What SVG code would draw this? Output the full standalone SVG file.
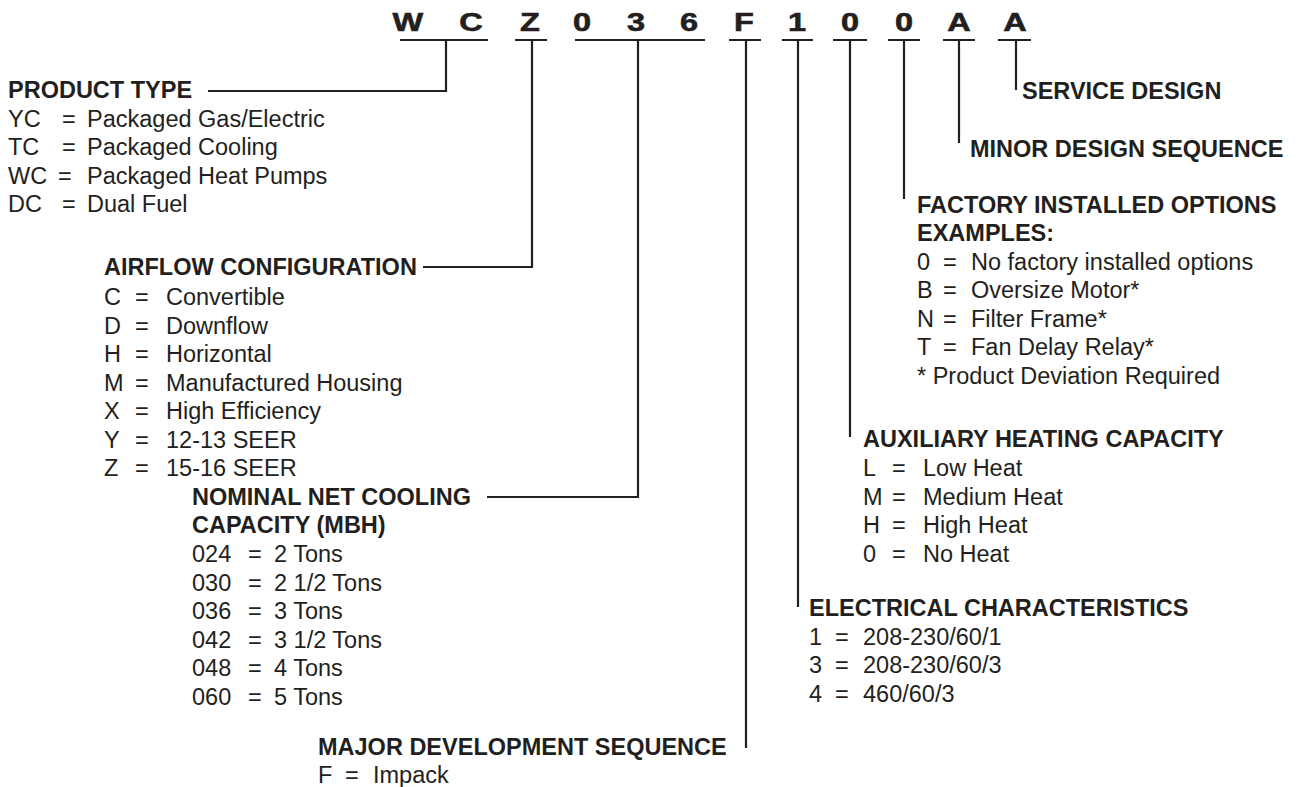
<svg xmlns="http://www.w3.org/2000/svg" width="1300" height="787" viewBox="0 0 1300 787">
<style>
text{font-family:"Liberation Sans",Arial,sans-serif;fill:#231f20}
.h{font-size:23.5px;font-weight:bold}
.t{font-size:23.5px}
.code{font-size:25px;font-weight:bold;stroke:#231f20;stroke-width:0.6px;text-anchor:middle}
.ln{stroke:#231f20;stroke-width:2.2;fill:none}
</style>
<rect width="1300" height="787" fill="#fff"/>
<g id="model-code" transform="scale(1.3 1)">
<text class="code" x="313.8 362.3 407.7 447.7 489.2 530 572.3 613.1 653.8 695.4 737.7 780.8" y="31">WCZ036F100AA</text>
</g>
<g id="connectors">
<path class="ln" d="M400 40H488M515 40H547M575 40H705M729 40H761M782 40H813M833 40H867M888 40H920M943 40H975M998 40H1031"/>
<path class="ln" d="M446 40V91H208"/>
<path class="ln" d="M532 40V267H423"/>
<path class="ln" d="M638 40V497H487"/>
<path class="ln" d="M746 40V748"/>
<path class="ln" d="M798 40V607"/>
<path class="ln" d="M850 40V437"/>
<path class="ln" d="M904 40V199"/>
<path class="ln" d="M959 40V143"/>
<path class="ln" d="M1016 40V90"/>
</g>
<g id="product-type">
<text class="h" x="8" y="98">PRODUCT TYPE</text>
<text class="t" y="127"><tspan x="8">YC</tspan><tspan x="62">=</tspan><tspan x="87">Packaged Gas/Electric</tspan></text>
<text class="t" y="155"><tspan x="8">TC</tspan><tspan x="62">=</tspan><tspan x="87">Packaged Cooling</tspan></text>
<text class="t" y="184"><tspan x="8">WC</tspan><tspan x="58">=</tspan><tspan x="87">Packaged Heat Pumps</tspan></text>
<text class="t" y="212"><tspan x="8">DC</tspan><tspan x="62">=</tspan><tspan x="87">Dual Fuel</tspan></text>
</g>
<g id="airflow-configuration">
<text class="h" x="104" y="275">AIRFLOW CONFIGURATION</text>
<text class="t" y="305"><tspan x="104">C</tspan><tspan x="135">=</tspan><tspan x="166">Convertible</tspan></text>
<text class="t" y="334"><tspan x="104">D</tspan><tspan x="135">=</tspan><tspan x="166">Downflow</tspan></text>
<text class="t" y="362"><tspan x="104">H</tspan><tspan x="135">=</tspan><tspan x="166">Horizontal</tspan></text>
<text class="t" y="391"><tspan x="104">M</tspan><tspan x="135">=</tspan><tspan x="166">Manufactured Housing</tspan></text>
<text class="t" y="419"><tspan x="104">X</tspan><tspan x="135">=</tspan><tspan x="166">High Efficiency</tspan></text>
<text class="t" y="448"><tspan x="104">Y</tspan><tspan x="135">=</tspan><tspan x="166">12-13 SEER</tspan></text>
<text class="t" y="476"><tspan x="104">Z</tspan><tspan x="135">=</tspan><tspan x="166">15-16 SEER</tspan></text>
</g>
<g id="nominal-cooling">
<text class="h" x="192" y="505">NOMINAL NET COOLING</text>
<text class="h" x="192" y="533">CAPACITY (MBH)</text>
<text class="t" y="562"><tspan x="192">024</tspan><tspan x="248">=</tspan><tspan x="274">2 Tons</tspan></text>
<text class="t" y="591"><tspan x="192">030</tspan><tspan x="248">=</tspan><tspan x="274">2 1/2 Tons</tspan></text>
<text class="t" y="619"><tspan x="192">036</tspan><tspan x="248">=</tspan><tspan x="274">3 Tons</tspan></text>
<text class="t" y="648"><tspan x="192">042</tspan><tspan x="248">=</tspan><tspan x="274">3 1/2 Tons</tspan></text>
<text class="t" y="676"><tspan x="192">048</tspan><tspan x="248">=</tspan><tspan x="274">4 Tons</tspan></text>
<text class="t" y="705"><tspan x="192">060</tspan><tspan x="248">=</tspan><tspan x="274">5 Tons</tspan></text>
</g>
<g id="major-development">
<text class="h" x="318" y="755">MAJOR DEVELOPMENT SEQUENCE</text>
<text class="t" y="783"><tspan x="318">F</tspan><tspan x="345">=</tspan><tspan x="373">Impack</tspan></text>
</g>
<g id="electrical">
<text class="h" x="809" y="616">ELECTRICAL CHARACTERISTICS</text>
<text class="t" y="645"><tspan x="809">1</tspan><tspan x="835">=</tspan><tspan x="863">208-230/60/1</tspan></text>
<text class="t" y="673"><tspan x="809">3</tspan><tspan x="835">=</tspan><tspan x="863">208-230/60/3</tspan></text>
<text class="t" y="702"><tspan x="809">4</tspan><tspan x="835">=</tspan><tspan x="863">460/60/3</tspan></text>
</g>
<g id="auxiliary-heating">
<text class="h" x="863" y="447">AUXILIARY HEATING CAPACITY</text>
<text class="t" y="476"><tspan x="863">L</tspan><tspan x="892">=</tspan><tspan x="923">Low Heat</tspan></text>
<text class="t" y="505"><tspan x="863">M</tspan><tspan x="892">=</tspan><tspan x="923">Medium Heat</tspan></text>
<text class="t" y="533"><tspan x="863">H</tspan><tspan x="892">=</tspan><tspan x="923">High Heat</tspan></text>
<text class="t" y="562"><tspan x="863">0</tspan><tspan x="892">=</tspan><tspan x="923">No Heat</tspan></text>
</g>
<g id="factory-options">
<text class="h" x="917" y="213">FACTORY INSTALLED OPTIONS</text>
<text class="h" x="917" y="241">EXAMPLES:</text>
<text class="t" y="270"><tspan x="917">0</tspan><tspan x="943">=</tspan><tspan x="971">No factory installed options</tspan></text>
<text class="t" y="298"><tspan x="917">B</tspan><tspan x="943">=</tspan><tspan x="971">Oversize Motor*</tspan></text>
<text class="t" y="327"><tspan x="917">N</tspan><tspan x="943">=</tspan><tspan x="971">Filter Frame*</tspan></text>
<text class="t" y="355"><tspan x="917">T</tspan><tspan x="943">=</tspan><tspan x="971">Fan Delay Relay*</tspan></text>
<text class="t" x="917" y="384">* Product Deviation Required</text>
</g>
<g id="minor-design">
<text class="h" x="970" y="157">MINOR DESIGN SEQUENCE</text>
</g>
<g id="service-design">
<text class="h" x="1022" y="99">SERVICE DESIGN</text>
</g>
</svg>
